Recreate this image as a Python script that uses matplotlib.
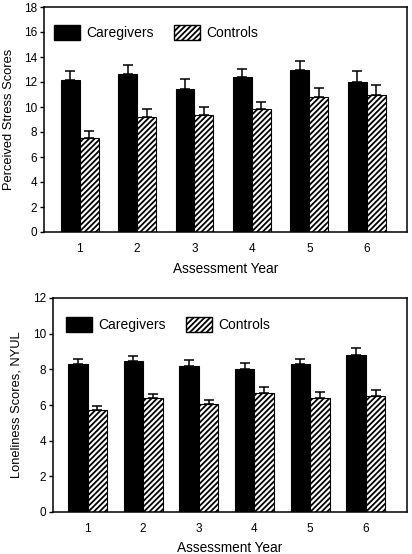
import matplotlib
matplotlib.use("Agg")
import matplotlib.pyplot as plt
import numpy as np
from matplotlib.patches import Patch

plt.rcParams['font.family'] = ['Liberation Sans', 'DejaVu Sans']
plt.rcParams['hatch.linewidth'] = 1.3

years = [1, 2, 3, 4, 5, 6]
year_labels = ['1', '2', '3', '4', '5', '6']

stress_caregivers = [12.15, 12.63, 11.41, 12.39, 12.98, 12.02]
stress_caregivers_err = [0.72, 0.72, 0.82, 0.67, 0.72, 0.83]
stress_controls = [7.55, 9.23, 9.36, 9.84, 10.82, 10.93]
stress_controls_err = [0.56, 0.58, 0.67, 0.59, 0.67, 0.83]

lonely_caregivers = [8.28, 8.45, 8.21, 8.02, 8.28, 8.79]
lonely_caregivers_err = [0.32, 0.32, 0.31, 0.34, 0.32, 0.41]
lonely_controls = [5.72, 6.39, 6.06, 6.65, 6.39, 6.49]
lonely_controls_err = [0.24, 0.25, 0.24, 0.34, 0.34, 0.33]

W, H = 412, 554
fig = plt.figure(figsize=(W / 100, H / 100), dpi=100)

def panel(rect, cg, cge, ct, cte, ylim, yticks, ylabel, xlim, bw, leg_anchor, ylab_x, xlab_y):
    ax = fig.add_axes(rect)
    x = np.array(years, dtype=float)
    ax.bar(x - bw / 2, cg, bw, color='black', edgecolor='black', linewidth=0.8,
           yerr=[np.zeros(len(cge)), cge], error_kw=dict(ecolor='black', elinewidth=1.1, capsize=3.6, capthick=1.1))
    ax.bar(x + bw / 2, ct, bw, color='white', edgecolor='black', linewidth=0.8, hatch='//////',
           yerr=[np.zeros(len(cte)), cte], error_kw=dict(ecolor='black', elinewidth=1.1, capsize=3.6, capthick=1.1))
    ax.set_xlim(*xlim)
    ax.set_ylim(*ylim)
    ax.set_yticks(yticks)
    ax.set_xticks(years)
    ax.set_xticklabels(year_labels)
    ax.tick_params(axis='x', length=0, pad=8, labelsize=8.5)
    ax.tick_params(axis='y', length=3, width=1, pad=2, labelsize=8.5, direction='out')
    for s in ax.spines.values():
        s.set_linewidth(1.1)
    ax.set_ylabel(ylabel, fontsize=9.3)
    ax.yaxis.set_label_coords(ylab_x, 0.5)
    ax.set_xlabel('Assessment Year', fontsize=9.8)
    ax.xaxis.set_label_coords(0.5, xlab_y)
    handles = [Patch(facecolor='black', edgecolor='black', label='Caregivers'),
               Patch(facecolor='white', edgecolor='black', hatch='//////', label='Controls')]
    ax.legend(handles=handles, loc='upper left', bbox_to_anchor=leg_anchor, ncol=2, frameon=False,
              fontsize=10, handlelength=1.85, handleheight=1.25, handletextpad=0.45,
              columnspacing=1.5, borderpad=0, borderaxespad=0)
    return ax

panel([44 / W, 1 - 232 / H, 363 / W, 225 / H], stress_caregivers, stress_caregivers_err,
      stress_controls, stress_controls_err, (0, 18), range(0, 19, 2), 'Perceived Stress Scores',
      (0.38, 6.7), 0.33, (0.0275, 0.92), -0.08, -0.133)

panel([53 / W, 1 - 512 / H, 354 / W, 214 / H], lonely_caregivers, lonely_caregivers_err,
      lonely_controls, lonely_controls_err, (0, 12), range(0, 13, 2), 'Loneliness Scores, NYUL',
      (0.38, 6.74), 0.35, (0.037, 0.911), -0.085, -0.136)

fig.savefig('out.png', dpi=100)
